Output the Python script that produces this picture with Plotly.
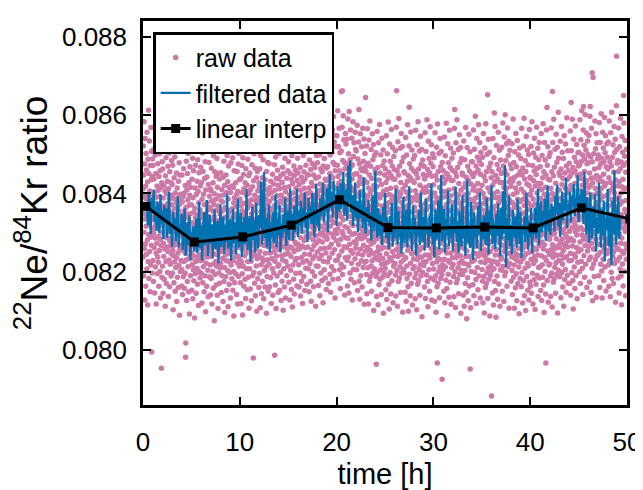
import plotly.graph_objects as go

# Ratios are stored as integers: ratio = RATIO_BASE + value * RATIO_UNIT
RATIO_BASE = 0.08
RATIO_UNIT = 1e-5

# raw data: one row per hour of measurement, samples evenly spread within the hour
raw_by_hour = [
[412,238,521,349,190,447,301,583,366,259,475,128,392,335,540,271,418,163,387,502,316,244,460,372,207,556,343,281,429,115,398,487,226,364,612,295,451,183,377,320,534,252,406,355,149,471,288,393,217,568,339,435,268,507,-5,381,197,443,312,488],
[306,471,229,388,512,175,354,298,437,261,569,332,146,403,286,359,498,212,375,320,451,247,118,390,341,527,273,419,195,362,310,476,238,587,351,224,408,290,163,443,369,254,501,327,392,201,458,283,346,133,415,372,267,535,-46,318,427,186,364,481],
[357,214,462,301,145,388,273,519,336,239,420,181,352,297,573,258,406,327,112,445,289,368,226,491,315,170,399,342,263,538,307,431,198,374,252,469,321,137,412,285,356,503,230,387,304,162,455,278,341,219,596,333,266,427,189,372,311,484,245,395],
[286,423,197,351,472,254,329,103,387,241,518,305,172,440,268,362,225,493,318,150,401,279,346,211,559,297,377,236,452,124,338,271,414,186,365,302,527,248,389,160,431,293,356,216,478,325,89,372,259,447,311,201,398,342,268,541,229,380,317,164],
[331,205,447,268,378,142,306,519,254,392,187,339,463,226,287,401,158,355,273,538,311,196,420,247,-18,18,364,290,482,231,127,347,409,262,318,175,451,296,383,213,502,279,336,149,427,257,370,304,92,395,240,468,325,281,190,416,349,233,557,274],
[249,371,153,302,436,218,325,490,267,131,389,286,205,458,314,177,352,240,521,297,82,363,261,414,195,338,472,226,309,145,397,273,548,318,209,431,256,344,168,486,292,237,405,329,114,376,264,453,200,320,282,529,243,358,184,419,301,228,467,272],
[318,196,427,262,349,120,385,288,503,231,337,172,456,297,213,398,269,552,324,149,371,245,438,305,190,481,257,346,98,409,283,222,517,330,266,163,442,311,376,238,590,292,204,358,136,423,276,341,251,479,315,187,393,260,533,299,217,364,141,411],
[265,407,183,332,464,239,296,118,381,273,525,310,201,355,427,158,288,496,246,372,220,341,75,399,280,455,193,319,263,538,226,385,302,166,443,271,357,214,489,330,140,416,291,242,368,106,451,307,255,578,284,197,394,327,171,437,259,348,210,511],
[304,221,453,276,381,147,329,508,252,410,190,355,293,567,234,378,124,441,309,261,396,175,482,287,338,211,421,96,364,275,529,243,316,187,447,299,360,228,152,402,285,497,263,341,203,430,317,111,386,254,470,296,227,352,168,415,279,544,322,198],
[357,246,133,402,298,478,217,331,265,544,308,182,419,276,361,229,491,153,340,284,415,201,376,87,319,458,251,389,172,302,523,238,347,290,427,195,367,261,590,312,142,398,275,456,223,334,118,405,287,240,475,326,188,381,262,502,300,214,435,271],
[231,386,294,517,172,345,262,438,119,369,307,225,471,283,356,195,402,90,320,491,257,375,214,448,299,163,412,268,339,535,241,303,181,427,350,276,132,463,311,247,396,208,556,288,330,154,421,273,362,226,487,304,186,379,259,445,319,107,400,284],
[323,208,452,289,371,156,409,265,539,301,227,384,126,348,275,473,239,336,190,417,312,583,252,365,-20,283,432,198,357,501,244,326,171,395,268,464,307,139,382,259,521,296,215,440,335,99,374,286,233,456,318,182,407,270,548,303,241,389,160,427],
[281,418,337,196,463,252,379,108,326,497,270,353,218,405,144,316,561,289,372,235,440,175,344,299,486,227,391,309,131,422,267,352,203,518,285,361,161,435,318,247,572,293,386,212,329,94,456,276,341,188,410,305,231,479,264,373,150,398,320,537],
[344,219,476,291,380,162,415,307,558,248,362,185,431,273,335,119,402,289,512,234,357,301,208,449,326,140,388,264,537,318,197,424,355,251,473,282,-13,369,227,408,315,166,493,276,347,106,438,299,240,574,331,189,394,262,459,313,214,377,147,421],
[290,437,218,365,501,256,339,153,412,307,584,272,381,199,446,328,127,395,283,519,241,357,176,428,313,467,230,376,299,102,451,264,342,208,543,320,387,161,415,286,490,245,369,133,404,311,226,526,347,274,439,190,363,297,601,258,383,215,458,329],
[358,246,481,309,173,417,337,562,264,396,128,350,451,285,372,204,528,317,239,436,155,383,298,496,261,341,110,425,326,217,548,290,401,181,365,470,252,331,143,446,313,586,276,387,229,459,302,196,414,345,271,518,234,377,164,433,319,257,490,352],
[301,452,270,389,536,218,347,161,423,310,583,259,374,197,466,329,138,408,287,512,351,236,441,176,395,318,547,265,381,119,429,340,224,497,303,370,188,455,279,413,601,245,362,152,436,322,261,519,387,209,472,335,290,565,228,400,168,448,314,377],
[384,263,519,331,208,447,366,592,288,414,149,372,485,244,356,221,538,320,402,176,461,297,373,125,428,339,571,256,391,200,476,313,357,233,509,282,419,162,447,346,267,554,307,395,189,466,328,240,528,371,112,439,292,386,215,497,350,274,582,318],
[333,478,251,396,529,214,371,165,442,318,585,280,407,233,498,352,139,424,296,546,367,259,463,197,388,315,571,242,410,178,455,337,276,532,301,381,121,470,346,227,595,291,418,205,489,362,260,551,323,436,184,401,309,576,248,433,155,465,375,288],
[409,283,541,357,225,468,392,604,301,437,170,380,514,262,419,236,559,340,451,194,498,316,382,148,446,362,587,270,425,213,505,331,394,247,562,296,440,181,479,368,288,596,325,415,203,531,351,256,473,390,133,458,306,412,229,548,377,280,519,342],
[416,298,547,361,230,472,395,611,310,443,182,387,520,269,426,241,566,347,458,205,504,322,391,157,452,374,283,431,219,508,660,339,402,253,569,302,662,193,484,375,296,598,333,419,212,537,356,264,479,396,141,463,315,418,236,553,382,287,526,349],
[351,476,262,402,538,229,384,164,447,312,590,285,419,238,501,357,146,433,609,303,462,270,392,197,486,341,562,254,416,181,469,326,389,222,541,295,437,128,473,364,247,583,318,409,206,494,352,276,529,381,172,449,298,406,233,556,371,260,512,336],
[392,271,508,338,205,451,367,574,283,419,152,361,488,246,397,219,531,318,614,429,176,476,294,373,130,441,332,552,258,405,190,463,310,376,228,519,284,425,161,458,349,243,566,300,395,211,482,337,268,539,372,117,434,289,396,224,502,359,253,468],
[645,309,456,227,381,521,193,356,144,428,297,565,262,392,210,477,334,118,414,280,536,243,368,176,447,320,585,255,401,187,469,303,361,215,512,271,409,150,438,331,228,552,289,383,197,486,318,247,525,355,101,420,276,374,208,497,340,234,461,296],
[305,451,236,379,504,188,-36,342,137,417,284,558,251,372,199,466,320,116,397,263,529,230,355,167,434,309,576,243,388,181,452,290,347,205,498,258,396,142,423,316,219,541,276,368,186,471,302,234,511,339,94,406,262,361,197,483,325,221,447,283],
[342,209,463,287,395,154,428,319,547,246,367,129,410,278,501,224,351,190,439,302,582,261,376,168,454,323,105,397,269,526,236,359,198,482,314,413,143,446,291,228,563,305,384,177,470,338,252,517,283,393,121,437,296,359,214,494,327,240,461,308],
[284,436,221,373,509,192,347,138,415,296,569,257,662,382,203,458,318,112,404,271,532,239,361,175,447,309,591,248,390,184,469,300,352,213,515,262,399,147,428,324,225,553,286,377,196,481,313,244,520,340,97,411,268,366,206,492,331,231,455,293],
[331,197,452,278,386,148,420,307,543,236,362,125,403,270,498,215,344,183,431,296,575,254,369,162,446,317,99,392,263,521,620,351,194,476,306,407,139,440,285,222,557,298,378,171,464,330,246,511,277,389,115,432,290,354,208,488,320,233,457,301],
[276,428,213,365,497,185,339,131,407,289,561,250,383,196,451,322,103,396,264,524,231,354,168,440,302,583,241,381,177,462,293,345,206,508,255,392,140,421,317,218,546,279,370,189,474,306,237,513,333,85,404,261,359,199,485,324,224,448,286,412],
[349,216,469,295,402,161,437,326,555,243,374,132,416,281,507,226,358,192,446,309,588,268,383,175,461,330,111,404,276,533,243,366,205,489,321,420,150,453,298,235,570,312,391,184,477,345,259,524,290,400,128,444,303,366,221,501,334,247,468,315],
[270,422,207,359,491,179,333,125,401,283,555,244,377,190,445,316,97,390,258,518,225,348,162,434,-33,296,577,235,375,171,456,287,339,200,502,249,386,134,415,311,212,540,273,364,183,468,300,231,507,327,405,255,353,193,-74,479,318,218,442,280],
[338,205,458,284,391,150,426,315,544,232,363,121,405,267,496,212,347,179,435,298,579,248,372,157,450,319,88,393,262,527,228,355,194,478,310,409,135,442,287,224,561,301,380,173,466,334,248,515,279,394,117,433,292,357,210,490,323,236,459,304],
[281,433,219,370,503,188,344,136,412,293,566,255,614,378,200,454,315,109,399,268,529,236,358,172,444,306,588,245,387,181,466,297,349,210,512,259,396,144,425,321,222,550,283,374,193,478,310,241,517,337,94,408,265,363,203,489,328,228,452,290],
[326,193,447,273,381,140,415,304,534,221,353,112,396,258,486,203,338,170,426,289,568,239,362,148,441,310,80,384,253,517,219,346,185,469,301,400,126,433,278,215,551,292,371,164,457,325,239,506,-48,270,385,108,424,283,348,201,481,314,227,450],
[357,226,481,301,409,167,443,331,562,248,380,139,419,287,513,230,365,198,452,314,597,265,389,180,470,337,119,406,276,540,246,371,211,493,326,425,154,460,302,240,575,316,398,189,483,350,263,530,297,408,133,449,308,372,225,505,341,252,474,320],
[269,421,206,358,492,176,332,121,400,281,553,242,375,188,443,314,95,388,256,516,223,347,160,432,295,578,234,374,170,455,285,338,198,500,247,385,652,132,414,309,210,538,271,362,181,466,298,229,505,326,87,403,252,351,191,477,316,216,440,278],
[-117,337,204,455,280,388,146,421,310,540,227,358,115,399,262,491,208,343,605,175,430,293,571,243,367,152,446,316,84,389,257,522,224,351,189,474,306,404,130,437,282,219,556,297,376,169,461,329,243,510,274,390,112,428,287,352,205,485,318,232],
[300,451,238,384,518,204,358,150,428,311,580,268,400,214,470,341,124,415,285,544,252,376,190,458,322,601,262,401,199,484,313,367,229,527,276,413,163,448,343,246,567,306,394,213,497,333,264,533,359,107,429,287,383,221,510,348,248,474,310,437],
[291,418,176,352,463,238,309,527,203,376,142,431,267,345,590,254,398,186,322,479,217,364,107,441,283,506,234,371,159,414,298,553,246,337,195,468,319,126,402,276,535,228,385,170,447,305,260,498,342,212,426,93,361,289,516,241,379,183,455,315],
[348,225,489,306,162,411,273,566,332,198,447,257,384,120,465,296,233,521,350,177,403,281,592,240,369,139,437,318,209,484,264,392,101,456,327,246,545,301,381,188,424,269,511,221,358,153,473,292,337,215,499,375,128,420,284,563,250,398,174,441],
[274,395,163,438,316,520,232,367,145,409,289,583,251,344,196,471,307,118,386,262,503,221,432,338,180,457,298,541,239,373,104,419,286,229,492,355,168,448,313,257,569,280,401,191,464,326,243,515,365,137,426,295,211,486,340,267,530,305,184,412],
[326,213,468,291,387,152,425,304,553,241,369,127,410,276,497,218,352,186,440,299,578,258,381,166,455,321,96,398,269,530,236,361,201,485,316,416,143,-33,447,292,229,562,310,388,619,178,472,339,253,519,284,396,122,436,297,360,217,494,329,244],
[283,434,220,371,504,189,345,137,413,294,567,256,384,197,455,323,110,400,660,269,530,237,359,173,445,307,589,246,388,182,467,298,350,211,513,260,397,145,426,322,223,551,284,375,194,479,311,242,518,338,95,409,266,364,607,204,490,329,229,453],
[262,409,318,187,446,275,533,341,229,387,134,462,301,244,571,356,198,423,283,505,219,372,161,438,327,254,489,308,112,395,268,547,236,361,180,452,296,414,206,526,331,272,378,148,470,315,239,593,288,347,191,436,263,509,324,402,171,458,279,366],
[352,228,477,303,409,170,443,331,559,247,377,140,420,284,632,509,229,362,198,452,313,589,266,391,178,466,334,105,408,279,538,245,370,212,492,325,425,157,457,302,238,572,316,396,190,481,348,262,525,294,404,131,446,307,371,224,504,341,251,470],
[381,258,505,332,438,200,473,360,588,276,407,170,449,313,537,256,390,226,482,342,611,294,421,209,498,365,142,437,307,562,622,283,400,241,523,354,456,186,488,331,267,601,346,426,219,511,378,291,554,323,433,160,476,337,401,253,534,371,280,499],
[327,478,265,415,548,231,383,174,452,335,597,287,622,421,238,493,356,147,439,305,566,273,396,209,708,481,344,126,427,297,696,258,391,220,501,351,440,188,462,364,259,585,322,413,231,514,349,283,552,377,135,446,304,400,241,529,366,270,488,318],
[375,243,498,326,432,190,466,352,581,270,401,160,441,309,530,250,384,219,476,337,603,287,413,202,490,358,133,430,300,556,266,392,232,516,347,449,178,481,325,260,594,339,419,212,504,371,284,547,316,426,151,468,330,394,246,527,363,273,492,342],
[316,462,254,398,531,217,369,163,440,323,585,276,407,228,481,347,136,428,294,555,262,385,199,470,332,607,248,410,183,492,319,372,240,524,283,418,170,454,349,252,571,311,401,221,505,339,269,538,365,122,434,297,386,230,624,750,512,351,260,477],
[361,228,484,313,419,184,456,341,567,257,390,146,430,296,519,237,372,207,463,324,592,273,401,189,480,346,116,417,286,545,252,379,220,505,335,436,164,471,312,650,247,580,328,408,201,495,359,271,535,303,413,139,454,317,382,232,513,350,259,478],
]

# filtered data: one sample every 0.1 h starting at 0.4 h
FILT_START_H = 0.4
FILT_STEP_H = 0.1
filtered_ratio = [
372,318,401,345,296,388,352,410,327,366,
305,379,341,298,397,322,356,283,371,330,
362,287,341,405,296,318,264,352,309,337,
278,331,392,262,318,297,349,256,306,362,
241,297,327,268,344,230,301,275,316,252,
289,336,247,302,378,261,318,229,295,352,
268,311,383,240,296,345,272,321,236,305,
359,258,293,330,221,308,372,263,287,341,
246,318,276,398,259,302,334,228,291,361,
273,327,245,305,386,262,311,350,238,296,
339,271,318,412,255,297,342,226,308,366,
281,332,249,376,298,260,345,313,430,270,
319,454,286,337,262,303,371,250,326,289,
352,274,318,398,263,335,293,370,249,321,
287,346,302,388,266,329,357,281,412,310,
346,279,368,301,337,412,288,355,319,381,
297,363,326,403,312,352,276,389,334,368,
322,401,346,289,372,425,318,360,303,387,
341,392,428,327,375,356,413,302,384,449,
362,405,338,433,371,392,317,418,386,352,
426,361,398,455,343,389,412,330,471,375,
484,352,396,317,369,428,338,381,301,355,
408,336,372,312,441,349,297,365,327,384,
318,352,279,396,341,305,458,326,287,362,
293,347,312,268,365,321,401,286,339,305,
258,342,296,377,264,319,285,412,302,271,
355,289,318,247,336,392,274,310,358,262,
327,418,285,301,253,369,296,338,241,315,
292,356,268,403,305,277,341,254,386,298,
318,262,343,291,425,270,312,236,359,283,
304,382,257,329,446,278,313,360,249,336,
293,408,266,321,287,371,254,340,299,417,
276,330,248,357,302,264,395,286,319,241,
335,436,273,311,261,378,297,230,352,288,
318,261,367,296,402,253,329,283,344,307,
268,389,312,244,357,295,421,270,336,301,
258,348,292,375,316,239,362,284,405,297,
471,212,336,281,394,266,319,245,358,304,
287,341,262,386,309,271,352,235,318,296,
343,275,402,301,256,331,289,362,248,319,
296,364,285,341,412,268,327,380,301,355,
312,386,279,349,421,302,358,294,373,331,
367,303,394,348,422,316,377,289,358,405,
331,386,357,439,312,371,348,404,326,392,
367,423,341,389,356,447,328,398,362,411,
379,322,455,348,296,391,337,274,402,318,
285,366,312,398,251,340,297,427,318,262,
359,293,382,227,337,306,411,265,348,303,
217,381,296,459,318,270,352,392,284,336,
]

# linear interpolation nodes
interp_time = [0.3, 5.3, 10.3, 15.3, 20.3, 25.3, 30.3, 35.3, 40.3, 45.3, 50.3]
interp_ratio = [0.08367, 0.08276, 0.08289, 0.08319, 0.08384, 0.08313,
                0.08312, 0.08314, 0.08312, 0.08363, 0.08335]

x_ticks = [0, 10, 20, 30, 40, 50]
y_ticks = [0.080, 0.082, 0.084, 0.086, 0.088]

raw_t, raw_y = [], []
for hour, row in enumerate(raw_by_hour):
    n = len(row)
    for j, v in enumerate(row):
        raw_t.append(hour + j / n)
        raw_y.append(RATIO_BASE + v * RATIO_UNIT)

filt_t = [FILT_START_H + i * FILT_STEP_H for i in range(len(filtered_ratio))]
filt_y = [RATIO_BASE + v * RATIO_UNIT for v in filtered_ratio]

FONT = "Liberation Sans, Arial, Helvetica, sans-serif"

fig = go.Figure()
fig.add_trace(go.Scatter(
    x=raw_t, y=raw_y, mode="markers", name="raw data",
    marker=dict(color="#CC79A7", size=5.5, line=dict(width=0)),
))
fig.add_trace(go.Scatter(
    x=filt_t, y=filt_y, mode="lines", name="filtered data",
    line=dict(color="#0072B2", width=2.2),
))
fig.add_trace(go.Scatter(
    x=interp_time, y=interp_ratio, mode="lines+markers", name="linear interp",
    line=dict(color="black", width=3),
    marker=dict(color="black", symbol="square", size=9),
))

axis_common = dict(
    showline=True, linecolor="black", linewidth=2.5, mirror="ticks",
    ticks="inside", ticklen=8, tickwidth=2, tickcolor="black",
    showgrid=False, zeroline=False, automargin=False,
    tickfont=dict(family=FONT, size=26, color="black"),
)

fig.update_xaxes(
    range=[0, 50], tickvals=x_ticks, ticktext=[str(v) for v in x_ticks],
    title=dict(text="time [h]", font=dict(family=FONT, size=29, color="black"), standoff=9),
    ticklabelstandoff=12,
    **axis_common,
)
fig.update_yaxes(
    range=[0.0786, 0.0884], tickvals=y_ticks, ticktext=[f"{v:.3f}" for v in y_ticks],
    title=dict(text="<sup>22</sup>Ne/<sup>84</sup>Kr ratio",
               font=dict(family=FONT, size=37, color="black"), standoff=5),
    ticklabelstandoff=8,
    **axis_common,
)

# the page body adds an 8 px margin, so the figure is sized to fit the window
fig.update_layout(
    width=635, height=482,
    margin=dict(l=135, r=16, t=13, b=85),
    plot_bgcolor="white", paper_bgcolor="white",
    font=dict(family=FONT, color="black"),
    legend=dict(
        x=0.021, y=0.971, xanchor="left", yanchor="top",
        bgcolor="white", bordercolor="black", borderwidth=2.5,
        font=dict(family=FONT, size=25, color="black"),
        itemwidth=30, tracegroupgap=0,
    ),
    showlegend=True,
)

fig.write_html("out.html")
